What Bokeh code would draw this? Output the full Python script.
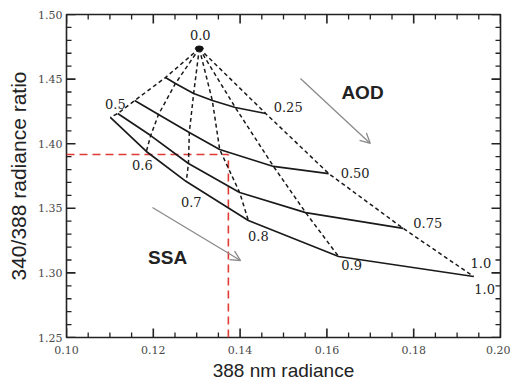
import numpy as np
from bokeh.plotting import figure
from bokeh.models import (Range1d, FixedTicker, PrintfTickFormatter,
                          Arrow, OpenHead, ColumnDataSource)
from bokeh.core.properties import value
from bokeh.embed import file_html
from bokeh.resources import INLINE

# ---------------- data ----------------
ssa_labels = ["0.5", "0.6", "0.7", "0.8", "0.9", "1.0"]
aod_labels = ["0.25", "0.50", "0.75", "1.0"]

# AOD = 0 point (all SSA lines meet here)
aod0_radiance = 0.1306
aod0_ratio = 1.4737

# constant-AOD curves, one value per SSA (0.5 ... 1.0)
radiance_aod025 = [0.1228, 0.1251, 0.1293, 0.1336, 0.1389, 0.1459]
ratio_aod025 = [1.4512, 1.4466, 1.4389, 1.4334, 1.4280, 1.4234]
radiance_aod050 = [0.1157, 0.1212, 0.1283, 0.1353, 0.1477, 0.1604]
ratio_aod050 = [1.4334, 1.4226, 1.4087, 1.3955, 1.3824, 1.3769]
radiance_aod075 = [0.1118, 0.1194, 0.1281, 0.1399, 0.1551, 0.1776]
ratio_aod075 = [1.4234, 1.4063, 1.3847, 1.3622, 1.3467, 1.3344]
radiance_aod100 = [0.1101, 0.1184, 0.1276, 0.1419, 0.1627, 0.1938]
ratio_aod100 = [1.4203, 1.3940, 1.3707, 1.3406, 1.3127, 1.2972]

# observed example (red dashed guide)
obs_radiance = 0.1373
obs_ratio = 1.3916

# arrows: start x, start y, end x, end y
aod_arrow = [0.1539, 1.4505, 0.1700, 1.4002]
ssa_arrow = [0.1198, 1.3506, 0.1401, 1.3096]
aod_word = [0.1682, 1.4396]
ssa_word = [0.1233, 1.3119]

x_ticks = [0.10, 0.12, 0.14, 0.16, 0.18, 0.20]
y_ticks = [1.25, 1.30, 1.35, 1.40, 1.45, 1.50]
x_minor_per_major = 4
y_minor_per_major = 5

x_min, x_max = x_ticks[0], x_ticks[-1]
y_min, y_max = y_ticks[0], y_ticks[-1]

# ---------------- figure ----------------
W, H = 510, 383
BL, BR, BT, BB = 66, 10, 14, 46
p = figure(width=W, height=H, x_range=Range1d(x_min, x_max), y_range=Range1d(y_min, y_max),
           output_backend="svg", toolbar_location=None,
           min_border_left=BL, min_border_right=BR, min_border_top=BT, min_border_bottom=BB)
p.xgrid.visible = False
p.ygrid.visible = False
p.outline_line_color = "#222222"
p.outline_line_width = 1.6
p.background_fill_color = "white"
p.border_fill_color = "white"

for ax, ticks in ((p.xaxis[0], x_ticks), (p.yaxis[0], y_ticks)):
    ax.ticker = FixedTicker(ticks=ticks)
    ax.formatter = PrintfTickFormatter(format="%.2f")
    ax.axis_line_color = None
    ax.major_tick_line_color = None
    ax.minor_tick_line_color = None
    ax.major_tick_in = 0
    ax.major_tick_out = 0
    ax.minor_tick_in = 0
    ax.minor_tick_out = 0
    ax.major_label_text_font = "DejaVu Serif"
    ax.major_label_text_font_size = "11px"
    ax.major_label_text_color = "#4a4a4a"
    ax.axis_label_text_font = "Liberation Sans"
    ax.axis_label_text_font_style = "normal"
    ax.axis_label_text_color = "#222222"

xa = p.xaxis[0]
xa.axis_label = "388 nm radiance"
xa.axis_label_text_font_size = "19px"
xa.major_label_standoff = 8
xa.axis_label_standoff = 3

ya = p.yaxis[0]
ya.axis_label = "340/388 radiance ratio"
ya.axis_label_text_font_size = "21px"
ya.major_label_standoff = 4
ya.axis_label_standoff = 5

# inward tick marks on all four sides
def minor_of(ticks, n):
    out = []
    for a, b in zip(ticks[:-1], ticks[1:]):
        out += [float(v) for v in np.linspace(a, b, n + 1)[1:-1]]
    return out

frame_w = W - BL - BR
frame_h = H - BT - BB
px_x = (x_max - x_min) / frame_w   # data units per screen pixel
px_y = (y_max - y_min) / frame_h

x_minor = minor_of(x_ticks, x_minor_per_major)
y_minor = minor_of(y_ticks, y_minor_per_major)
tick_color = "#222222"
for vals, length, lw in ((x_ticks, 9, 1.6), (x_minor, 5, 1.3)):
    n = len(vals)
    p.segment(x0=vals, y0=[y_min] * n, x1=vals, y1=[y_min + length * px_y] * n,
              line_color=tick_color, line_width=lw)
    p.segment(x0=vals, y0=[y_max] * n, x1=vals, y1=[y_max - length * px_y] * n,
              line_color=tick_color, line_width=lw)
for vals, length, lw in ((y_ticks, 9, 1.6), (y_minor, 5, 1.3)):
    n = len(vals)
    p.segment(x0=[x_min] * n, y0=vals, x1=[x_min + length * px_x] * n, y1=vals,
              line_color=tick_color, line_width=lw)
    p.segment(x0=[x_max] * n, y0=vals, x1=[x_max - length * px_x] * n, y1=vals,
              line_color=tick_color, line_width=lw)

radiance_curves = [radiance_aod025, radiance_aod050, radiance_aod075, radiance_aod100]
ratio_curves = [ratio_aod025, ratio_aod050, ratio_aod075, ratio_aod100]

# red observation guide lines
p.line([x_min, obs_radiance], [obs_ratio, obs_ratio], line_color="#e03a34",
       line_width=1.6, line_dash="8 5")
p.line([obs_radiance, obs_radiance], [y_min, obs_ratio], line_color="#e03a34",
       line_width=1.6, line_dash="8 5")

# constant SSA lines (dashed), from AOD = 0 through AOD 0.25 ... 1.0
for j in range(len(ssa_labels)):
    xs = [aod0_radiance] + [c[j] for c in radiance_curves]
    ys = [aod0_ratio] + [c[j] for c in ratio_curves]
    p.line(xs, ys, line_color="#1a1a1a", line_width=1.5, line_dash="4 3")

# constant AOD curves (solid)
for xs, ys in zip(radiance_curves, ratio_curves):
    p.line(xs, ys, line_color="#1a1a1a", line_width=1.7)

# AOD = 0 dot
p.ellipse(x=[aod0_radiance], y=[aod0_ratio], width=8, height=5,
          width_units="screen", height_units="screen",
          fill_color="#111111", line_color="#111111")

serif = value("DejaVu Serif")

p.text(x=[aod0_radiance], y=[aod0_ratio], text=["0.0"], x_offset=1, y_offset=-13,
       text_font=serif, text_font_size="13px", text_color="#222222",
       text_align="center", text_baseline="middle")

# AOD labels at the right ends of the solid curves
aod_src = ColumnDataSource(dict(
    x=[c[-1] for c in radiance_curves], y=[c[-1] for c in ratio_curves], t=aod_labels,
    dx=[8, 12, 10, -3], dy=[-6, -1, -5, -14]))
p.text(x="x", y="y", text="t", x_offset="dx", y_offset="dy", source=aod_src,
       text_font=serif, text_font_size="13px", text_color="#222222",
       text_align="left", text_baseline="middle")

# SSA labels at the AOD = 1.0 ends of the dashed lines
ssa_src = ColumnDataSource(dict(
    x=radiance_aod100, y=ratio_aod100, t=ssa_labels,
    dx=[5, -4, 5, 10, 13, 11], dy=[-13, 14, 20, 16, 9, 12]))
p.text(x="x", y="y", text="t", x_offset="dx", y_offset="dy", source=ssa_src,
       text_font=serif, text_font_size="13px", text_color="#222222",
       text_align="center", text_baseline="middle")

# arrows
for a in (aod_arrow, ssa_arrow):
    p.add_layout(Arrow(x_start=a[0], y_start=a[1], x_end=a[2], y_end=a[3],
                       line_color="#8a8a8a", line_width=1.3,
                       end=OpenHead(size=10, line_color="#8a8a8a", line_width=1.3)))

p.text(x=[aod_word[0]], y=[aod_word[1]], text=["AOD"], text_font=value("Liberation Sans"),
       text_font_style="bold", text_font_size="19px", text_color="#222222",
       text_align="center", text_baseline="middle")
p.text(x=[ssa_word[0]], y=[ssa_word[1]], text=["SSA"], text_font=value("Liberation Sans"),
       text_font_style="bold", text_font_size="19px", text_color="#222222",
       text_align="center", text_baseline="middle")

open("out.html", "w").write(file_html(p, INLINE))
